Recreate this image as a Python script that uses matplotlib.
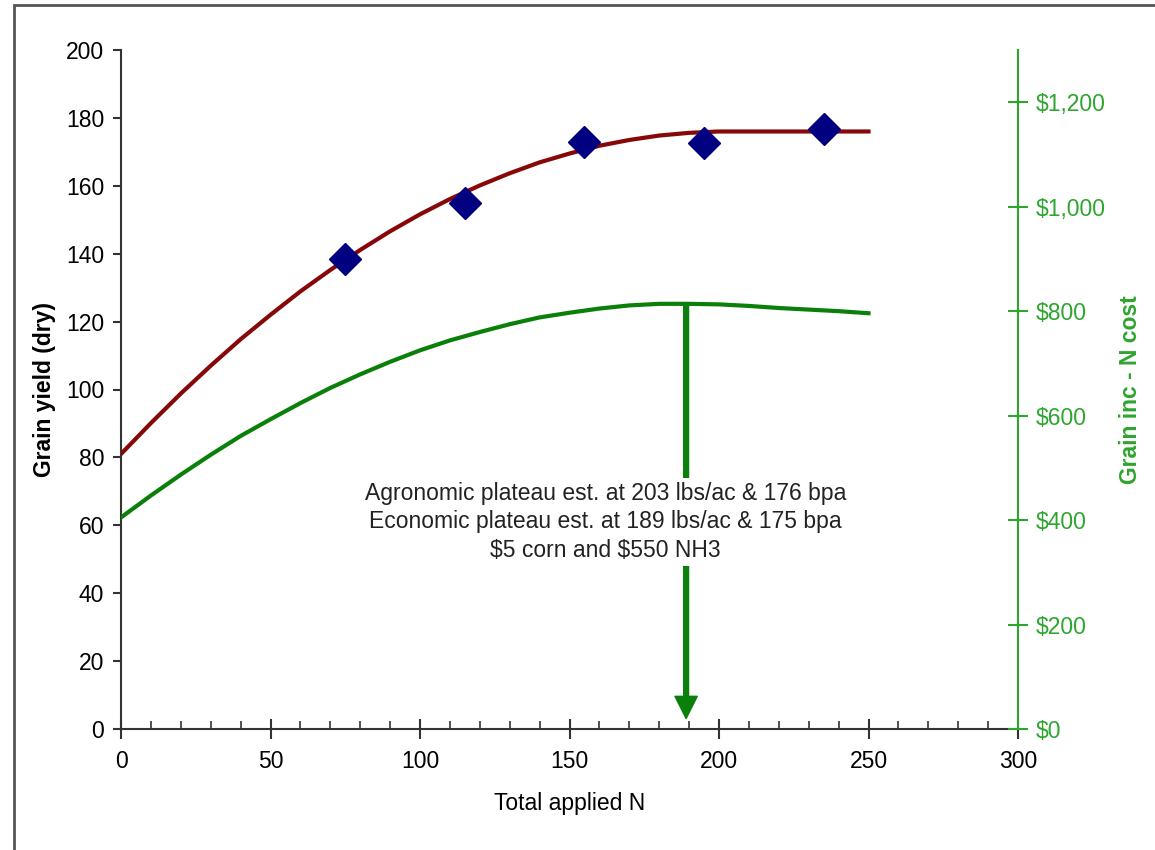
import matplotlib
matplotlib.use("Agg")
import matplotlib.pyplot as plt
from matplotlib.patches import Rectangle
from matplotlib.ticker import MultipleLocator, FuncFormatter

plt.rcParams["font.family"] = ["Liberation Sans", "DejaVu Sans"]

# fitted yield curve, lbs N vs bu/ac
n_curve = [0, 10, 20, 30, 40, 50, 60, 70, 80, 90, 100, 110, 120, 130, 140,
           150, 160, 170, 180, 190, 200, 210, 220, 230, 240, 250]
yield_curve = [81.0, 90.1, 98.8, 107.0, 114.8, 122.0, 128.9, 135.2, 141.1, 146.6,
               151.6, 156.1, 160.1, 163.7, 166.9, 169.5, 171.8, 173.5, 174.8, 175.6,
               176.0, 176.0, 176.0, 176.0, 176.0, 176.0]
# grain income minus N cost ($)
income_curve = [405, 447, 487, 525, 561, 593, 624, 653, 679, 703, 725, 744, 760,
                775, 788, 797, 805, 811, 814, 814, 813, 810, 806, 803, 800, 796]

# observed plots
n_obs = [75, 115, 155, 195, 235]
yield_obs = [138.5, 155, 173, 172.6, 176.8]

econ_n = 189
econ_val = 815
note = ("Agronomic plateau est. at 203 lbs/ac & 176 bpa\n"
        "Economic plateau est. at 189 lbs/ac & 175 bpa\n"
        "$5 corn and $550 NH3")

RED = "#860808"
NAVY = "#000080"
GREEN = "#0a800a"
AXGREEN = "#2ea52e"
FS = 16.5

fig = plt.figure(figsize=(11.55, 8.5), dpi=100)
ax = fig.add_axes([121 / 1155, 1 - 729 / 850, (1018 - 121) / 1155, (729 - 50) / 850])
ax2 = ax.twinx()

ax.plot(n_curve, yield_curve, color=RED, lw=3, zorder=3)
ax.plot(n_obs, yield_obs, "D", color=NAVY, ms=16, zorder=4)

ax2.plot(n_curve, income_curve, color=GREEN, lw=3, zorder=3)
ax2.annotate("", xy=(econ_n, 20), xytext=(econ_n, econ_val),
             arrowprops=dict(facecolor=GREEN, edgecolor=GREEN, width=3.5,
                             headwidth=16, headlength=16, shrink=0))
ax2.text(162, 397, note, ha="center", va="center", fontsize=FS, color="#222222",
         linespacing=1.3, zorder=6, parse_math=False,
         bbox=dict(facecolor="white", edgecolor="none", pad=3))

ax.set_xlim(0, 300)
ax.set_ylim(0, 200)
ax2.set_ylim(0, 1300)

ax.xaxis.set_major_locator(MultipleLocator(50))
ax.xaxis.set_minor_locator(MultipleLocator(10))
ax.yaxis.set_major_locator(MultipleLocator(20))
ax2.yaxis.set_major_locator(MultipleLocator(200))
ax2.yaxis.set_major_formatter(FuncFormatter(lambda v, p: f"${v:,.0f}"))

for s in ["top", "right"]:
    ax.spines[s].set_visible(False)
for s in ["top", "left", "bottom"]:
    ax2.spines[s].set_visible(False)
ax.spines["left"].set_linewidth(1.5)
ax.spines["bottom"].set_linewidth(1.5)
ax.spines["left"].set_color("#333333")
ax.spines["bottom"].set_color("#333333")
ax2.spines["right"].set_color(AXGREEN)
ax2.spines["right"].set_linewidth(1.5)

ax.tick_params(axis="x", which="major", direction="inout", length=14, width=1.5,
               color="#333333", labelsize=FS, pad=8)
ax.tick_params(axis="x", which="minor", direction="in", length=6, width=1.2,
               color="#333333")
ax.tick_params(axis="y", direction="out", length=6, width=1.5, color="#333333",
               labelsize=FS, pad=6)
ax2.tick_params(axis="y", direction="inout", length=14, width=1.5, color=AXGREEN,
                labelcolor=AXGREEN, labelsize=FS, pad=6)

ax.set_xlabel("Total applied N", fontsize=FS, labelpad=14)
ax.set_ylabel("Grain yield (dry)", fontsize=FS, fontweight="bold", labelpad=7)
ax2.set_ylabel("Grain inc - N cost", fontsize=FS, fontweight="bold", color=AXGREEN,
               labelpad=9)

# page frame from the original screenshot
fig.patches.append(Rectangle((14 / 1155, -0.1), 1.2, 1 - 5 / 850 + 0.1,
                             transform=fig.transFigure, fill=False,
                             edgecolor="#555555", lw=2))

fig.savefig("out.png", dpi=100)
